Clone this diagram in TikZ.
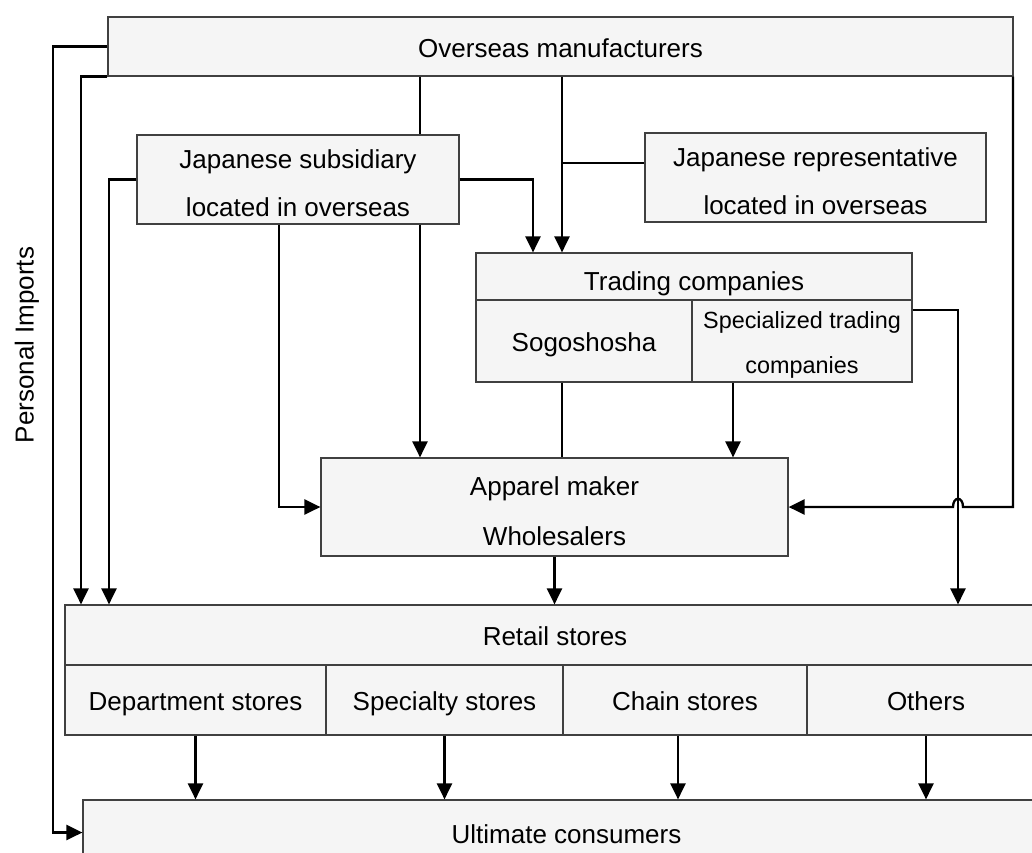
\documentclass[tikz,border=0pt]{standalone}
\usepackage{fontspec}
\setmainfont{Liberation Sans}
\usetikzlibrary{arrows.meta}
\newcommand{\sgl}{\rule[-2.7pt]{0pt}{16.1pt}}
\newcommand{\tpr}{\rule{0pt}{16pt}}
\newcommand{\btr}{\rule[-2.7pt]{0pt}{2.7pt}}
\tikzset{
  box/.style={draw=black!75, line width=0.6pt, fill=black!4, inner sep=0pt,
    font=\fontsize{13}{24}\selectfont, align=center},
  conn/.style={line width=1.15pt, draw=black},
  arr/.style={conn, -{Triangle[length=8pt,width=7.5pt]}},
}
\begin{document}
\begin{tikzpicture}[x=0.5pt,y=-0.5pt]
\useasboundingbox (0,0) rectangle (1032,852);
\clip (0,0) rectangle (1032,852);
\fill[white] (0,0) rectangle (1032,852);

% boxes
\node[box, minimum width=452.5pt, minimum height=29.5pt] (over) at (560.5,46.5) {\sgl Overseas manufacturers};
\node[box, minimum width=161pt, minimum height=44.5pt] (jsub) at (298,179.5) {\tpr Japanese subsidiary\\located in overseas\btr};
\node[box, minimum width=170.5pt, minimum height=44.5pt] (jrep) at (815.5,177.5) {\tpr Japanese representative\\located in overseas\btr};
\node[box, minimum width=218pt, minimum height=23.5pt] (trade) at (694,276.5) {\rule[-2.7pt]{0pt}{19.4pt}Trading companies};
\node[box, minimum width=108pt, minimum height=41pt] (sogo) at (584,341) {\sgl Sogoshosha};
\node[box, minimum width=110pt, minimum height=41pt, font=\fontsize{11.7}{22.5}\selectfont] (spec) at (802,341) {\rule{0pt}{12.5pt}Specialized trading\\companies};
\node[box, minimum width=233.5pt, minimum height=49pt, font=\fontsize{13}{25}\selectfont] (app) at (554.5,507) {\tpr Apparel maker\\Wholesalers\btr};
\node[box, minimum width=490pt, minimum height=30pt] (retail) at (555,635) {\sgl Retail stores};
\node[box, minimum width=130.5pt, minimum height=35pt] (dept) at (195.5,700) {\sgl Department stores};
\node[box, minimum width=118.5pt, minimum height=35pt] (spst) at (444.5,700) {\sgl Specialty stores};
\node[box, minimum width=122pt, minimum height=35pt] (chain) at (685,700) {\sgl Chain stores};
\node[box, minimum width=119pt, minimum height=35pt] (others) at (926,700) {\sgl Others};
\node[box, minimum width=483.5pt, minimum height=32.5pt] (ult) at (566.5,832.5) {\sgl Ultimate consumers};

\node[rotate=90, font=\fontsize{13}{15}\selectfont, inner sep=0pt] (pi) at (27,345) {Personal Imports};

% routing coordinates
\coordinate (xL) at (53,0);
\coordinate (x2) at (81,0);
\coordinate (x3) at (109,0);
\coordinate (x279) at (279,0);
\coordinate (x420) at (420,0);
\coordinate (x533) at (533,0);
\coordinate (x562) at (562,0);
\coordinate (x678) at (678,0);
\coordinate (x733) at (733,0);
\coordinate (x958) at (958,0);
\coordinate (x1013) at (1013,0);
\coordinate (br) at (562,163);
\coordinate (ys) at (0,310);
\coordinate (h1) at (963,507);
\coordinate (h2) at (953,507);

% connectors
\draw[arr] (over.west) -- (over.west -| xL) -- (ult.west -| xL) -- (ult.west);
\draw[arr] (over.south west) -- (over.south west -| x2) -- (retail.north -| x2);
\draw[arr] (jsub.west) -- (jsub.west -| x3) -- (retail.north -| x3);
\draw[conn] (over.south -| x420) -- (jsub.north -| x420);
\draw[arr] (jsub.south -| x420) -- (app.north -| x420);
\draw[arr] (jsub.south -| x279) -- (app.west -| x279) -- (app.west);
\draw[arr] (jsub.east) -- (jsub.east -| x533) -- (trade.north -| x533);
\draw[arr] (over.south -| x562) -- (trade.north -| x562);
\draw[conn] (br) -- (br -| jrep.west);
\draw[conn] (sogo.south -| x562) -- (app.north -| x562);
\draw[arr] (spec.south -| x733) -- (app.north -| x733);
\draw[arr] (spec.east |- ys) -- (ys -| x958) -- (retail.north -| x958);
\draw[arr] (over.south -| x1013) -- (app.east -| x1013) -- (h1) .. controls (963,496) and (953,496) .. (h2) -- (app.east);
\draw[arr] (app.south) -- (retail.north -| app.south);
\draw[arr] (dept.south) -- (ult.north -| dept.south);
\draw[arr] (spst.south) -- (ult.north -| spst.south);
\draw[arr] (chain.south -| x678) -- (ult.north -| x678);
\draw[arr] (others.south) -- (ult.north -| others.south);
\end{tikzpicture}
\end{document}
